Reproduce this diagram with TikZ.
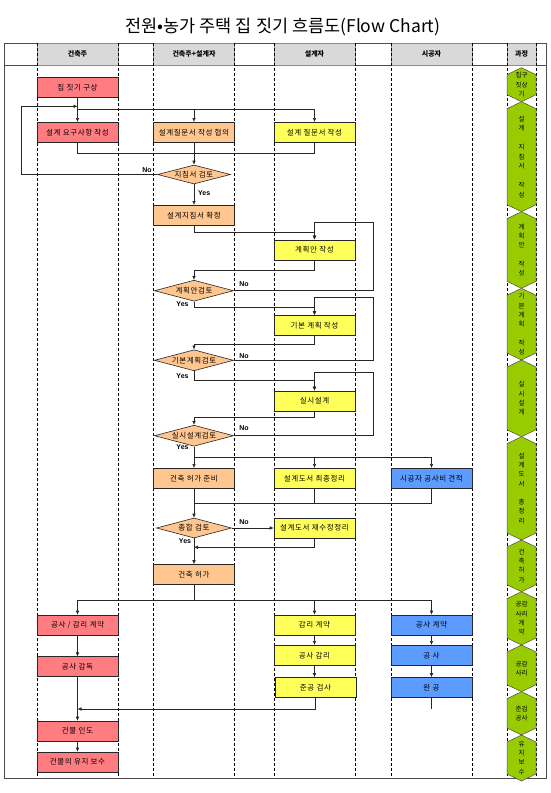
\documentclass[tikz,border=0pt]{standalone}
\usepackage{fontspec}
\setmainfont{Noto Sans CJK KR}
\newfontfamily\latf{Liberation Sans}
\newfontfamily\krs[LetterSpace=8]{Noto Sans CJK KR}
\usetikzlibrary{shapes.geometric,arrows.meta}
\definecolor{cred}{HTML}{FF7C80}
\definecolor{corange}{HTML}{FFC68F}
\definecolor{cyellow}{HTML}{FFFF5A}
\definecolor{cblue}{HTML}{5C9BFF}
\definecolor{cgreen}{HTML}{99CC00}
\definecolor{cgray}{HTML}{D9D9D9}
\newcommand\hexa[4]{%
  \draw[hexst] (521.5,#2) -- (536,#2+7) -- (536,#3-7) -- (521.5,#3) -- (507,#3-7) -- (507,#2+7) -- cycle;
  \node[hext] (#1) at (521.5,{(#2+#3)/2}) {#4};}
\newcommand\dt[1]{\makebox[0pt]{#1}}
\begin{document}
\begin{tikzpicture}[x=1pt,y=-1pt,
  every node/.style={inner sep=0pt},
  box/.style={rectangle,draw=black!85,line width=0.6pt,minimum width=81pt,minimum height=20pt,font=\krs\fontsize{7.5}{8}\selectfont},
  rbox/.style={box,fill=cred},
  obox/.style={box,fill=corange},
  ybox/.style={box,fill=cyellow},
  bbox/.style={box,fill=cblue},
  dec/.style={diamond,aspect=4,draw=black!85,fill=corange,line width=0.6pt,minimum width=79pt,minimum height=21pt,inner sep=0pt,font=\krs\fontsize{7.5}{8}\selectfont},
  con/.style={line width=0.6pt,black!85},
  arr/.style={con,-{Latex[length=4pt,width=3.6pt]}},
  lab/.style={font=\latf\bfseries\fontsize{7}{8}\selectfont},
  lane/.style={dash pattern=on 3pt off 2pt,line width=0.6pt,black},
  hexst/.style={draw=black!70,fill=cgreen,line width=0.5pt},
  hext/.style={align=center,font=\fontsize{6.5}{9.3}\selectfont},
  hdr/.style={rectangle,draw=black!45,fill=cgray,minimum height=21.7pt,font=\bfseries\fontsize{7}{8}\selectfont}
]
\useasboundingbox (0,0) rectangle (550,793);
\fill[white] (0,0) rectangle (550,793);
% title
\node[font=\fontsize{17.5}{20}\selectfont] (title) at (283,27) {전원•농가 주택 집 짓기 흐름도(Flow Chart)};
% frame
\draw[line width=0.8pt,black!70] (4,43.3) rectangle (546,778.3);
\draw[line width=0.6pt,black!70] (4,65) -- (546,65);
% headers
\node[hdr,minimum width=81pt] (h1) at (77.5,54.2) {건축주};
\node[hdr,minimum width=81pt] (h2) at (194,54.2) {건축주+설계자};
\node[hdr,minimum width=81pt] (h3) at (314.5,54.2) {설계자};
\node[hdr,minimum width=81pt] (h4) at (431.5,54.2) {시공자};
\node[hdr,minimum width=29pt] (h5) at (521.5,54.2) {과정};
% lanes
\foreach \x in {37,118,153.5,234.5,274,355,391,472,507,536}
  \draw[lane] (\x,43.3) -- (\x,778.3);
% process column
\hexa{p1}{67.7}{101.7}{집구\\짓상\\기}
\hexa{p2}{101.7}{211.7}{설\\계\\[10pt]지\\침\\서\\[10pt]작\\성}
\hexa{p3}{211.7}{288.3}{계\\획\\안\\[9pt]작\\성}
\hexa{p4}{288.3}{360}{기\\본\\계\\획\\[9pt]작\\성}
\hexa{p5}{360}{436.7}{실\\시\\설\\계}
\hexa{p6}{436.7}{540}{설\\계\\도\\서\\[9pt]총\\정\\리}
\hexa{p7}{540}{591.7}{건\\축\\허\\가}
\hexa{p8}{591.7}{645}{공감\\사리\\계\\약}
\hexa{p9}{645}{691.7}{공감\\사리}
\hexa{p10}{691.7}{735}{준검\\공사}
\hexa{p11}{735}{781}{유\\지\\보\\수}
% nodes
\node[rbox] (n1) at (77.5,87.7) {집 짓기 구상};
\node[rbox] (n2) at (77.5,132.3) {설계 요구사항 작성};
\node[obox] (n3) at (194,132.3) {설계질문서 작성 협의};
\node[ybox] (n4) at (314.5,132.3) {설계 질문서 작성};
\node[dec,minimum width=73pt,minimum height=19pt] (d1) at (194,174.5) {\dt{지침서 검토}};
\node[obox] (n5) at (194,215.3) {설계지침서 확정};
\node[ybox] (n6) at (314.5,250) {계획안 작성};
\node[dec] (d2) at (194,290.7) {\dt{계획안검토}};
\node[ybox] (n7) at (314.5,325.5) {기본 계획 작성};
\node[dec] (d3) at (194,360.3) {\dt{기본계획검토}};
\node[ybox] (n8) at (314.5,401) {실시설계};
\node[dec] (d4) at (194,435.7) {\dt{실시설계검토}};
\node[obox] (n9) at (194,478.3) {건축 허가 준비};
\node[ybox] (n10) at (314.5,478.3) {설계도서 최종정리};
\node[bbox] (n11) at (431.5,478.3) {시공자 공사비 견적};
\node[dec,minimum width=75pt,minimum height=20pt] (d5) at (194,528) {\dt{종합 검토}};
\node[ybox] (n12) at (314.5,528) {설계도서 재수정정리};
\node[obox] (n13) at (194,574.5) {건축 허가};
\node[rbox] (n14) at (77.5,625) {공사 / 감리 계약};
\node[ybox] (n15) at (314.5,625) {감리 계약};
\node[bbox] (n16) at (431.5,625) {공사 계약};
\node[ybox] (n17) at (314.5,655.3) {공사 감리};
\node[bbox] (n18) at (431.5,655.3) {공 사};
\node[rbox] (n19) at (77.5,666.7) {공사 감독};
\node[ybox] (n20) at (315.5,687.5) {준공 검사};
\node[bbox] (n21) at (431.5,687.5) {완 공};
\node[rbox] (n22) at (77.5,731) {건물 인도};
\node[rbox] (n23) at (77.5,762) {건물의 유지 보수};
% labels
\node[lab,anchor=west] (y1) at (198,193) {Yes};
\node[lab] (no1) at (147,170) {No};
\node[lab] (y2) at (182.5,304) {Yes};
\node[lab] (no2) at (244,284.5) {No};
\node[lab] (y3) at (182.5,376) {Yes};
\node[lab] (no3) at (244,356) {No};
\node[lab] (y4) at (182.5,447.5) {Yes};
\node[lab] (no4) at (244,428.5) {No};
\node[lab] (y5) at (185,541.5) {Yes};
\node[lab] (no5) at (244,522.5) {No};
% connectors
\draw[arr] (n1) -- (n2);
\coordinate (j1) at (77.5,109.3);
\draw[arr] (j1) -| (n4.north);
\draw[arr] (n3.north |- j1) -- (n3.north);
\coordinate (l1) at (21.7,106.3);
\draw[arr] (d1.west) -| (l1) -- (n1.south |- l1);
\coordinate (m1) at (194,153.3);
\draw[con] (n2.south) |- (m1) -| (n4.south);
\draw[arr] (n3) -- (d1);
\draw[arr] (d1) -- (n5);
\coordinate (m2) at (314.5,232.7);
\draw[arr] (n5.south) |- (m2) -- (n6.north);
\coordinate (r1) at (373.7,222.3);
\draw[arr] (d2.east) -| (r1) -- (n6.north |- r1) -- (n6.north);
\coordinate (m3) at (194,270);
\draw[arr] (n6.south) |- (m3) -- (d2.north);
\coordinate (m4) at (314.5,307.7);
\draw[arr] (d2.south) |- (m4) -- (n7.north);
\coordinate (r2) at (373.7,297.7);
\draw[arr] (d3.east) -| (r2) -- (n7.north |- r2) -- (n7.north);
\coordinate (m5) at (194,344);
\draw[arr] (n7.south) |- (m5) -- (d3.north);
\coordinate (m6) at (314.5,380);
\draw[arr] (d3.south) |- (m6) -- (n8.north);
\coordinate (r3) at (373.7,372.7);
\draw[arr] (d4.east) -| (r3) -- (n8.north |- r3) -- (n8.north);
\coordinate (m7) at (194,417.7);
\draw[arr] (n8.south) |- (m7) -- (d4.north);
\coordinate (m8) at (194,457.3);
\draw[arr] (d4) -- (n9);
\draw[arr] (m8) -| (n11.north);
\draw[arr] (n10.north |- m8) -- (n10.north);
\coordinate (m9) at (194,503.3);
\draw[arr] (n9) -- (d5);
\draw[con] (n11.south) |- (m9);
\draw[con] (n10.south) -- (n10.south |- m9);
\draw[arr] (d5.east) -- (n12.west);
\coordinate (m10) at (194,547.3);
\draw[arr] (n12.south) |- (m10);
\draw[arr] (d5) -- (n13);
\coordinate (m11) at (194,600);
\draw[con] (n13) -- (m11);
\draw[arr] (m11) -| (n14.north);
\draw[arr] (m11) -| (n16.north);
\draw[arr] (n15.north |- m11) -- (n15.north);
\draw[arr] (n14) -- (n19);
\draw[arr] (n15) -- (n17);
\draw[arr] (n17.south) -- (n17.south |- n20.north);
\draw[arr] (n16) -- (n18);
\draw[arr] (n18) -- (n21);
\coordinate (m12) at (77.5,709);
\draw[arr] (n20.south) |- (m12);
\draw[con] (n21.south) -- (n21.south |- m12);
\draw[arr] (n19) -- (n22);
\draw[arr] (n22) -- (n23);
\end{tikzpicture}
\end{document}
